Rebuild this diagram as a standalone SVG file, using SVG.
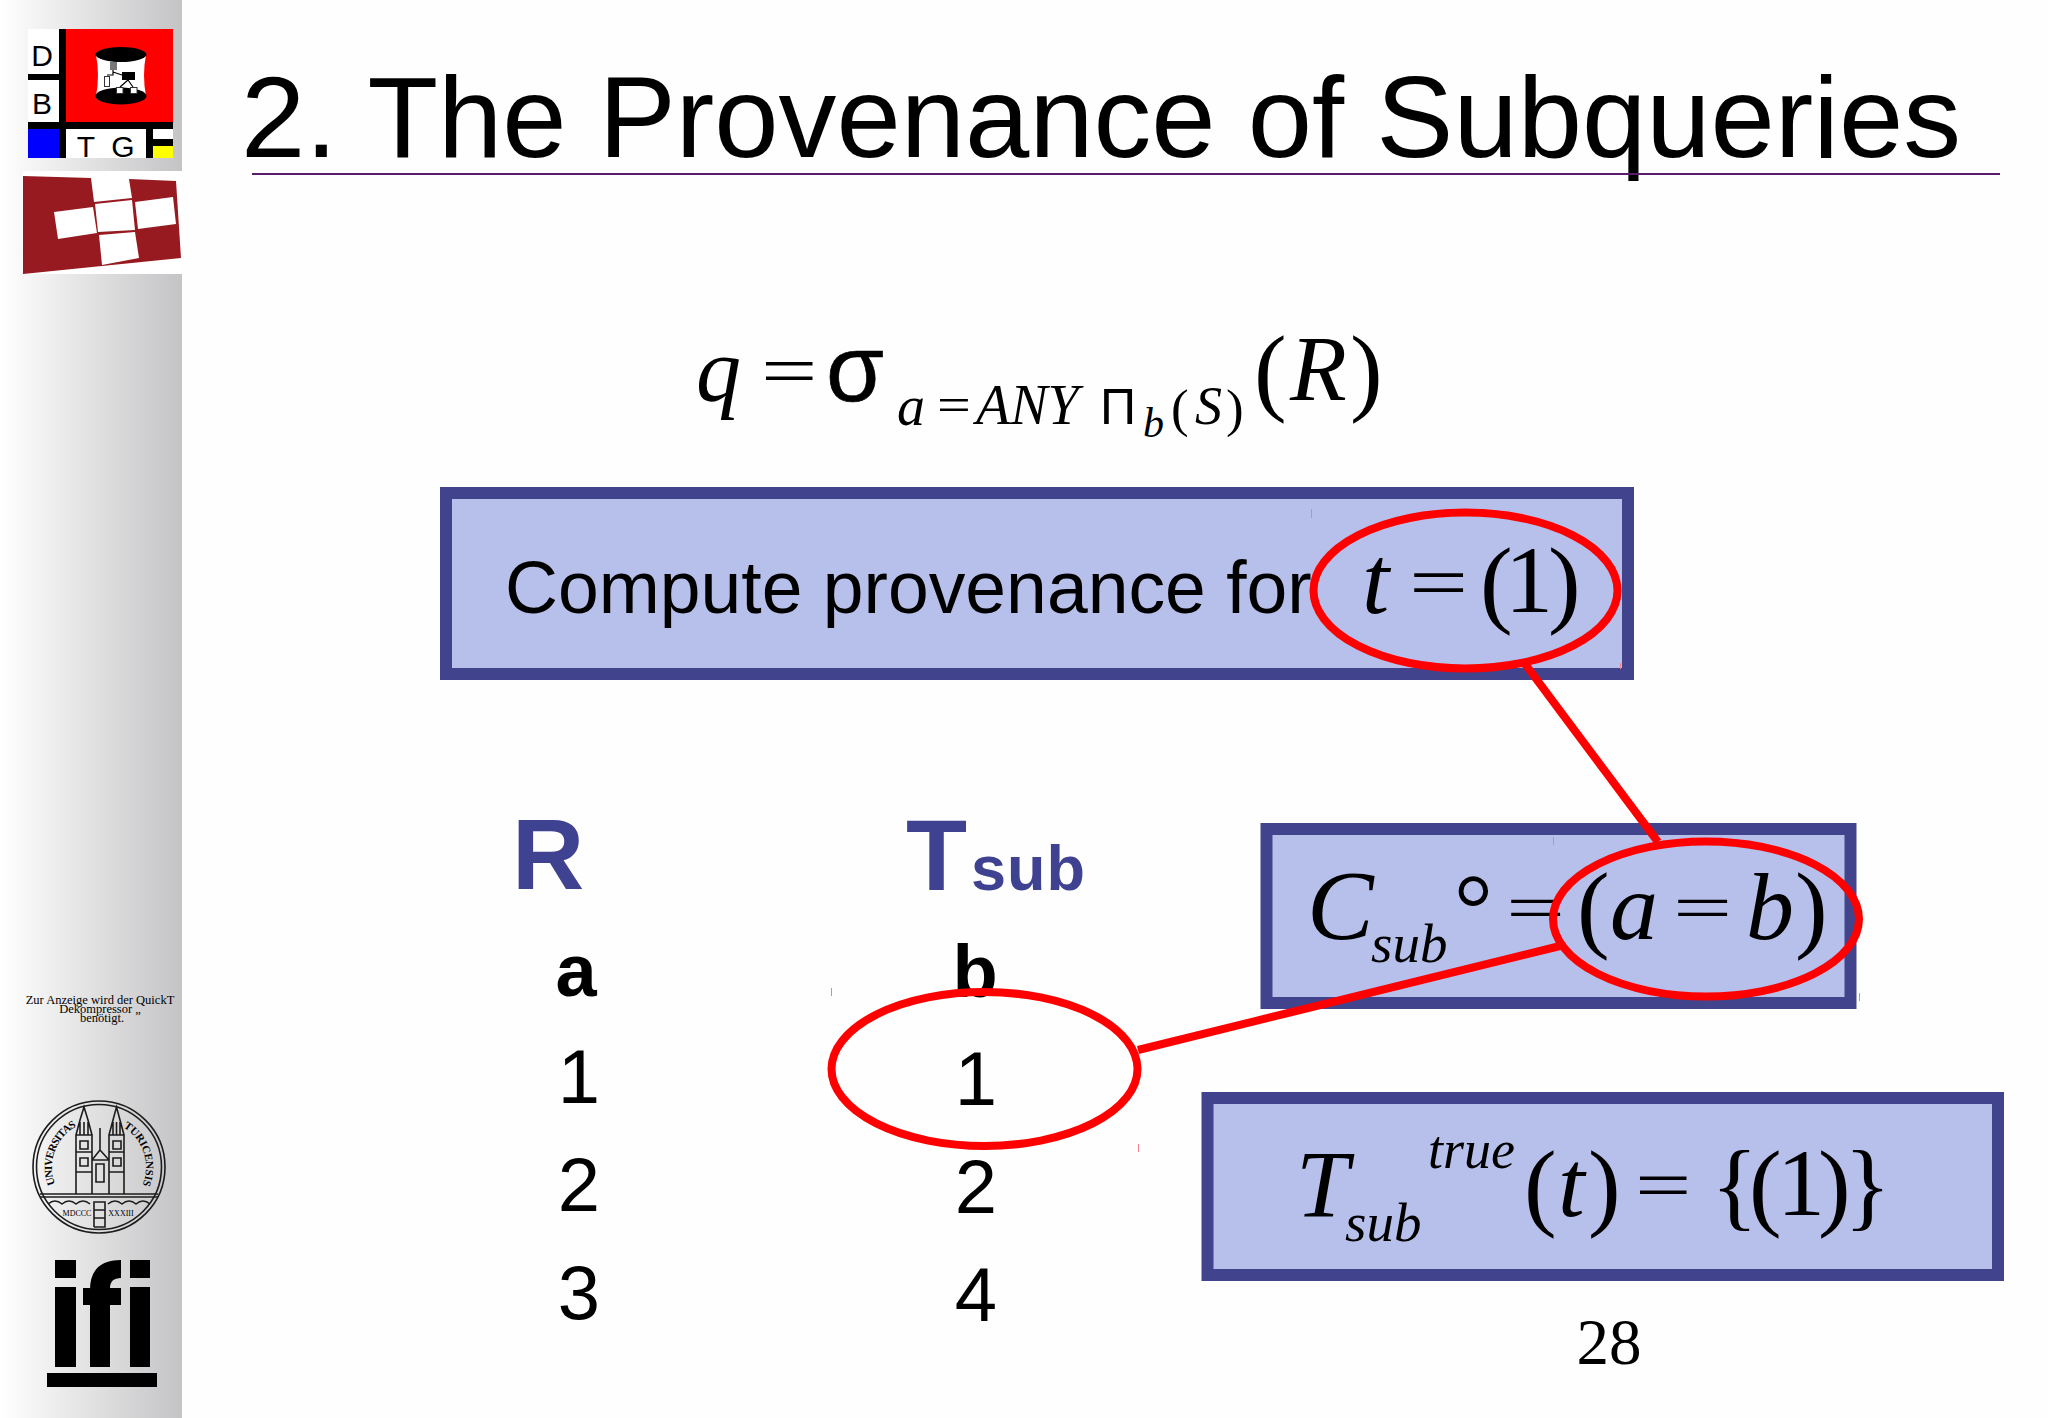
<svg xmlns="http://www.w3.org/2000/svg" width="2048" height="1418" viewBox="0 0 2048 1418">
<style>
.s{font-family:"Liberation Serif","Times New Roman",serif;fill:#000}
.i{font-style:italic}
.a{font-family:"Liberation Sans",Arial,sans-serif;fill:#000}
.h{font-family:"Liberation Sans",Arial,sans-serif;fill:#3f4290;font-weight:bold}
.box{fill:#b7c0ea;stroke:#41448c;stroke-width:12}
.ring{fill:none;stroke:#f00;stroke-width:8}
.tick{stroke:#f08090;stroke-width:1;fill:none}
.k{fill:#000}
.w{fill:#fff}
.sl{fill:none;stroke:#1c1c1c;stroke-width:1.6}
</style>
<defs><linearGradient id="side" x1="0" x2="1" y1="0" y2="0"><stop offset="0" stop-color="#fff"/><stop offset="1" stop-color="#c4c4c6"/></linearGradient>
<path id="sealarc" d="M55 1184A47 47 0 1 1 143 1184"/></defs>
<rect width="2048" height="1418" fill="#fefefe"/>
<rect id="sidebar" width="182" height="1418" fill="url(#side)"/>
<g id="logo-dbtg">
<rect x="28" y="29" width="145" height="129" fill="#fff"/>
<rect x="66" y="29" width="107" height="93" fill="#f00"/>
<rect x="59" y="29" width="7" height="129" class="k"/>
<rect x="28" y="74" width="31" height="6" class="k"/>
<rect x="28" y="122" width="145" height="7" class="k"/>
<rect x="28" y="129" width="31" height="29" fill="#00f"/>
<rect x="146" y="129" width="7" height="29" class="k"/>
<rect x="153" y="139" width="20" height="7" class="k"/>
<rect x="153" y="146" width="20" height="12" fill="#ff0"/>
<text x="42" y="66" text-anchor="middle" class="a" font-size="30">D</text>
<text x="42" y="114" text-anchor="middle" class="a" font-size="30">B</text>
<text x="86" y="157" text-anchor="middle" class="a" font-size="30">T</text>
<text x="123" y="157" text-anchor="middle" class="a" font-size="30">G</text>
<path d="M96 55Q100 75 96 96H146Q142 75 146 55Z" class="w"/>
<ellipse cx="121" cy="54.500" rx="25.500" ry="7.500" class="k"/>
<ellipse cx="121" cy="96" rx="25.500" ry="8.500" class="k"/>
<path d="M113 70V75H107M113 72L122 75M128 80L120 87M128 80L133 87" stroke="#000" stroke-width="1.200" fill="none"/>
<rect x="110" y="62" width="7" height="8" fill="#777"/>
<rect x="122" y="72" width="13" height="8" class="k"/>
<rect x="104.500" y="76.500" width="5" height="10" fill="#fff" stroke="#333"/>
<rect x="116.500" y="87.500" width="6.500" height="6" fill="#fff" stroke="#333"/>
<rect x="130.500" y="87.500" width="6.500" height="6" fill="#fff" stroke="#333"/>
</g>
<g id="logo-red">
<rect x="23" y="171" width="159" height="103" fill="#fff"/>
<path d="M23 176L91 178L94 202L132 198L129 179L176 181L181 258L23 274Z" fill="#961a20"/>
<path d="M54 212L93 207L97 233L58 239ZM95 204L132 200L135 230L98 232ZM135 202L173 197L176 224L138 229ZM99 235L135 232L139 258L102 265Z" fill="#fff"/>
</g>
<g id="title">
<text x="241" y="157" class="a" font-size="115.600">2. The Provenance of Subqueries</text>
<rect x="252" y="173" width="1748" height="2" fill="#5a1a6e"/>
</g>
<g id="formula">
<text x="696" y="401" class="s i" font-size="90">q</text>
<text class="s" font-size="100" transform="translate(761 395) scale(1 .71)">=</text>
<text x="826" y="401" class="a" font-size="94" stroke="#000" stroke-width=".6">σ</text>
<text x="897" y="425" class="s i" font-size="56">a</text>
<text class="s" font-size="60" transform="translate(937 421) scale(1 .8)">=</text>
<text x="976" y="424" class="s i" font-size="56">ANY</text>
<text x="1100" y="424" class="a" font-size="50">Π</text>
<text x="1143" y="437" class="s i" font-size="42">b</text>
<text x="1171" y="426" class="s" font-size="53">(</text>
<text x="1195" y="424" class="s i" font-size="54">S</text>
<text x="1226" y="426" class="s" font-size="53">)</text>
<text x="1254" y="403" class="s" font-size="98">(</text>
<text x="1290" y="400" class="s i" font-size="93">R</text>
<text x="1350" y="403" class="s" font-size="98">)</text>
</g>
<g id="box-compute">
<rect class="box" x="446" y="493" width="1182" height="181"/>
<text x="505" y="613" class="a" font-size="73.300">Compute provenance for</text>
<text x="1362" y="613" class="s i" font-size="98">t</text>
<text class="s" font-size="105" transform="translate(1409 607) scale(1 .7)">=</text>
<text x="1480" y="615" class="s" font-size="98">(</text>
<text x="1505" y="612" class="s" font-size="96">1</text>
<text x="1548" y="615" class="s" font-size="98">)</text>
</g>
<g id="table-r">
<text x="512" y="889" class="h" font-size="100">R</text>
<text x="576" y="996" text-anchor="middle" class="a" font-size="74" font-weight="bold">a</text>
<text x="579" y="1103" text-anchor="middle" class="a" font-size="76">1</text>
<text x="579" y="1211" text-anchor="middle" class="a" font-size="76">2</text>
<text x="579" y="1319" text-anchor="middle" class="a" font-size="76">3</text>
</g>
<g id="table-tsub">
<text x="906" y="890" class="h" font-size="100">T</text>
<text x="971" y="890" class="h" font-size="63" letter-spacing="1">sub</text>
<text x="975" y="997" text-anchor="middle" class="a" font-size="74" font-weight="bold">b</text>
<text x="976" y="1105" text-anchor="middle" class="a" font-size="76">1</text>
<text x="976" y="1213" text-anchor="middle" class="a" font-size="76">2</text>
<text x="976" y="1321" text-anchor="middle" class="a" font-size="76">4</text>
</g>
<g id="box-csub">
<rect class="box" x="1266.500" y="829" width="584" height="174"/>
<text x="1307" y="939" class="s i" font-size="100">C</text>
<text x="1371" y="962" class="s i" font-size="55">sub</text>
<text x="1454" y="940.500" class="s" font-size="97">°</text>
<text class="s" font-size="105" transform="translate(1506 930) scale(1 .62)">=</text>
<text x="1577" y="940" class="s" font-size="98">(</text>
<text x="1610" y="939" class="s i" font-size="96">a</text>
<text class="s" font-size="105" transform="translate(1673 930) scale(1 .62)">=</text>
<text x="1746" y="939" class="s i" font-size="96">b</text>
<text x="1795" y="940" class="s" font-size="98">)</text>
</g>
<g id="box-ttrue">
<rect class="box" x="1207.500" y="1098" width="790.500" height="177"/>
<text x="1296" y="1216.500" class="s i" font-size="95">T</text>
<text x="1345" y="1241" class="s i" font-size="55">sub</text>
<text x="1428" y="1168" class="s i" font-size="54">true</text>
<text x="1524" y="1218" class="s" font-size="98">(</text>
<text x="1558" y="1216" class="s i" font-size="96">t</text>
<text x="1588" y="1218" class="s" font-size="98">)</text>
<text class="s" font-size="100" transform="translate(1635 1209) scale(1 .7)">=</text>
<text x="1711" y="1218" class="s" font-size="98">{</text>
<text x="1749" y="1218" class="s" font-size="98">(</text>
<text x="1777" y="1215" class="s" font-size="96">1</text>
<text x="1818" y="1218" class="s" font-size="98">)</text>
<text x="1844" y="1218" class="s" font-size="98">}</text>
</g>
<g id="connectors">
<line class="ring" x1="1525" y1="664" x2="1658" y2="842"/>
<line class="ring" x1="1138" y1="1050" x2="1560" y2="946"/>
</g>
<g id="rings">
<ellipse class="ring" cx="1465.500" cy="590.500" rx="152" ry="78"/>
<ellipse class="ring" cx="1706" cy="919" rx="153" ry="77.500"/>
<ellipse class="ring" cx="984.500" cy="1069" rx="153" ry="77"/>
<path class="tick" d="M1311.500 509v9M1620.500 663v6M1553.500 837v8M1859.500 993v8M831.500 988v8M1138.500 1144v8"/>
</g>
<g id="page"><text x="1609" y="1364" text-anchor="middle" class="s" font-size="65">28</text></g>
<g id="notice" class="s" font-size="12.500" text-anchor="middle">
<text x="100" y="1004">Zur Anzeige wird der QuickT</text>
<text x="100" y="1013">Dekompressor „</text>
<text x="102" y="1022">benötigt.</text>
</g>
<g id="seal">
<circle class="sl" cx="99" cy="1167" r="66"/>
<circle class="sl" cx="99" cy="1167" r="62.500"/>
<path class="sl" d="M76 1194V1135H92V1194M76 1135L80 1120L84 1107L88 1120L92 1135M109 1194V1135H124V1194M109 1135L113 1120L116.500 1107L120 1120L124 1135M92 1160H109V1194M92 1160L100 1150L109 1160M100 1150V1128M40 1194H158M40 1197H158M76 1152H92M76 1172H92M109 1152H124M109 1172H124M80 1122V1135M84 1122V1135M88 1122V1135M113 1122V1135M116.500 1122V1135M120 1122V1135"/>
<path class="sl" d="M80 1141h8v8h-8zM113 1141h8v8h-8zM80 1158h8v8h-8zM113 1158h8v8h-8zM96 1164h8v18h-8z"/>
<path class="sl" d="M48 1204q7-6 14 0q7-6 14 0q7-6 14 0M108 1204q7-6 14 0q7-6 14 0q7-6 14 0M94 1227V1202H105V1227H94M94 1210H105M94 1218H105"/>
<g class="s" font-size="11" font-weight="bold" fill="#1c1c1c">
<text><textPath href="#sealarc" startOffset="0" textLength="67" lengthAdjust="spacing">UNIVERSITAS</textPath></text>
<text><textPath href="#sealarc" startOffset="116" textLength="66" lengthAdjust="spacing">TURICENSIS</textPath></text>
</g>
<text x="77" y="1216" text-anchor="middle" class="s" font-size="8">MDCCC</text>
<text x="121" y="1216" text-anchor="middle" class="s" font-size="8">XXXIII</text>
</g>
<g id="logo-ifi" class="k">
<rect x="55" y="1260" width="21" height="18"/><rect x="130" y="1260" width="20" height="18"/>
<rect x="55" y="1287" width="21" height="80"/><rect x="130" y="1287" width="20" height="80"/>
<path d="M90 1367V1305H83V1288H90V1290Q90 1260 121 1260V1278Q110 1278 110 1288H121V1305H110V1367Z"/>
<rect x="47" y="1373" width="110" height="14"/>
</g>
</svg>
